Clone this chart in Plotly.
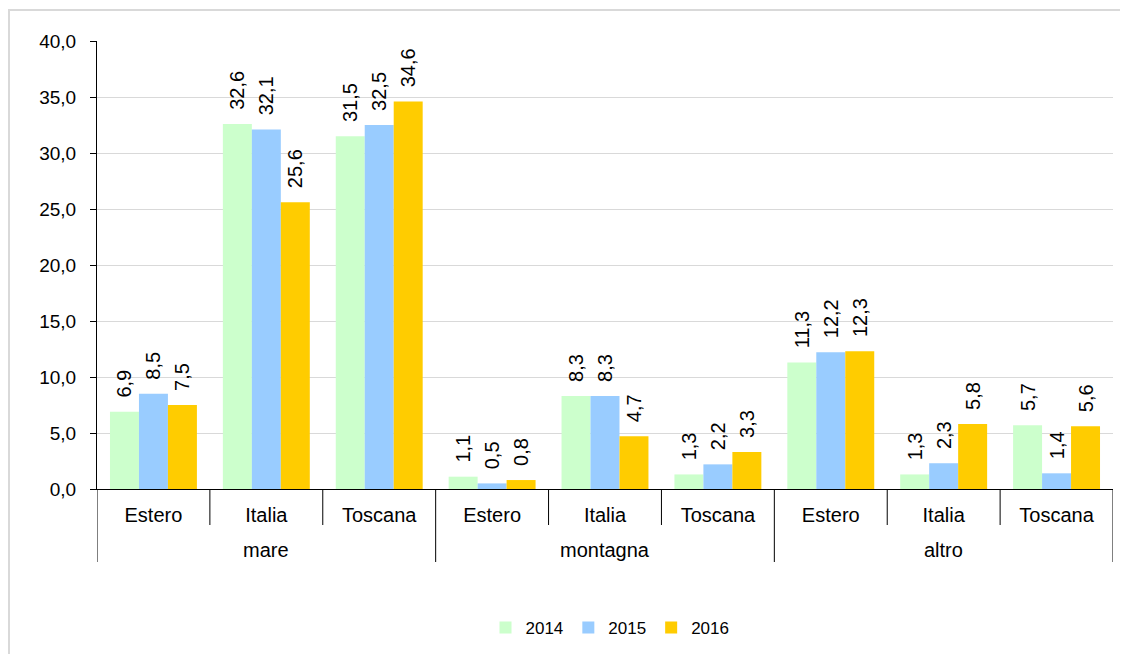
import plotly.graph_objects as go

groups = ["mare", "mare", "mare", "montagna", "montagna", "montagna", "altro", "altro", "altro"]
cats = ["Estero", "Italia", "Toscana", "Estero", "Italia", "Toscana", "Estero", "Italia", "Toscana"]
v2014 = [6.9, 32.6, 31.5, 1.1, 8.3, 1.3, 11.3, 1.3, 5.7]
v2015 = [8.5, 32.1, 32.5, 0.5, 8.3, 2.2, 12.2, 2.3, 1.4]
v2016 = [7.5, 25.6, 34.6, 0.8, 4.7, 3.3, 12.3, 5.8, 5.6]
series = [("2014", v2014, "#CCFFCC"), ("2015", v2015, "#99CCFF"), ("2016", v2016, "#FFCC00")]

FONT = "Liberation Sans, Arial, sans-serif"
W, H = 1120, 646          # page body adds an 8px margin
L, R, T, B = 89, 15, 33, 165
PW, PH = W - L - R, H - T - B

pos = list(range(len(cats)))
PAD = "\u00a0\u00a0"

fig = go.Figure()
for name, vals, col in series:
    fig.add_trace(go.Bar(
        name=name, x=pos, y=vals, marker=dict(color=col, line=dict(width=0)),
        text=[PAD + f"{v:.1f}".replace(".", ",") for v in vals], textposition="outside",
        textangle=-90, cliponaxis=False, constraintext="none",
        textfont=dict(family=FONT, size=20, color="black"),
    ))

shapes = []
for i in range(len(cats) + 1):
    xb = i - 0.5
    is_group = i == 0 or i == len(cats) or groups[i] != groups[i - 1]
    shapes.append(dict(type="line", xref="x", yref="paper", x0=xb, x1=xb,
                       y0=0, y1=-(73 if is_group else 36) / PH,
                       line=dict(color="black", width=1)))
shapes.append(dict(type="rect", xref="paper", yref="paper",
                   x0=(1 - L) / PW, x1=(W + 5 - L) / PW,
                   y0=-(B + 20) / PH, y1=(PH + T - 2) / PH,
                   line=dict(color="#D9D9D9", width=2), fillcolor="rgba(0,0,0,0)", layer="below"))

annotations = []
seen = []
for g in groups:
    if g not in seen:
        seen.append(g)
for g in seen:
    idx = [i for i, gg in enumerate(groups) if gg == g]
    annotations.append(dict(x=sum(idx) / len(idx), y=-61 / PH, xref="x", yref="paper",
                            text=g, showarrow=False, yanchor="middle", xanchor="center",
                            font=dict(family=FONT, size=20, color="black")))

fig.update_layout(
    width=W, height=H, barmode="group", bargap=0.23, bargroupgap=0,
    paper_bgcolor="white", plot_bgcolor="white",
    margin=dict(l=L, r=R, t=T, b=B, autoexpand=False),
    font=dict(family=FONT, size=18, color="black"),
    separators=",.",
    showlegend=True,
    legend=dict(orientation="h", x=(602 - L) / PW, xanchor="center", y=-(620 - T - PH) / PH,
                yanchor="middle", font=dict(size=17), itemwidth=30, traceorder="normal"),
    xaxis=dict(range=[-0.5, len(cats) - 0.5], tickvals=pos, ticktext=cats, ticks="",
               showline=True, linecolor="black", linewidth=1, showgrid=False, zeroline=False,
               tickfont=dict(size=20), ticklabelstandoff=8),
    yaxis=dict(range=[0, 40], dtick=5, tickformat=".1f", showline=True, linecolor="black",
               ticks="outside", ticklen=6, tickcolor="black", gridcolor="#D9D9D9",
               gridwidth=1, tickfont=dict(size=19), zeroline=False, ticklabelstandoff=10),
    shapes=shapes,
    annotations=annotations,
)
fig.write_html("out.html")
